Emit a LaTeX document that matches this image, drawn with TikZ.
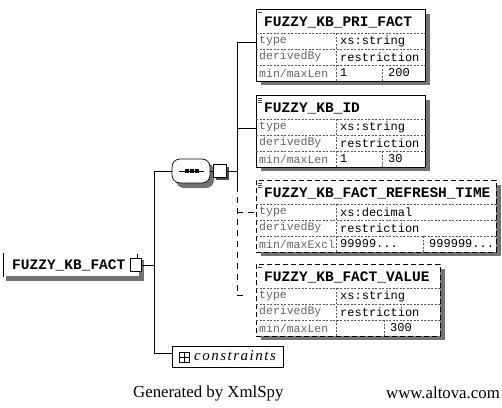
\documentclass[tikz,border=0pt]{standalone}
\usepackage{fontspec}
\setmainfont{Liberation Serif}
\newfontfamily\monof{Liberation Mono}
\newfontfamily\italf[LetterSpace=10]{Liberation Serif Italic}
\tikzset{
  shadowfill/.style={fill=black!55, draw=none},
  ebox/.style={draw=black, line width=0.8pt, fill=white, inner sep=0pt, outer sep=0pt},
  obox/.style={ebox, dash pattern=on 5pt off 3pt},
  rowline/.style={draw=black!65, line width=0.5pt, dash pattern=on 2pt off 1.5pt},
  conn/.style={draw=black, line width=0.8pt},
  oconn/.style={draw=black, line width=0.8pt, dash pattern=on 6pt off 5pt},
  ttl/.style={font=\monof\bfseries\fontsize{14.5}{15}\selectfont, anchor=west, inner sep=0pt},
  lbl/.style={font=\monof\fontsize{11.5}{12}\selectfont, text=black!60, anchor=west, inner sep=0pt},
  val/.style={font=\monof\fontsize{12}{12}\selectfont, anchor=west, inner sep=0pt},
  tickline/.style={draw=black!70, line width=0.5pt},
}
% one XML Schema element: #1 name, #2 right edge, #3 border style, #4 title,
% #5 type, #6 range facet label, #7 low value, #8 high value, #9 second divider
\newcommand\xsdelem[9]{%
  \fill[shadowfill] (261,5) rectangle (#2+5,76);
  \node[#3, anchor=north west, minimum width={(#2-256)*1pt}, minimum height=72pt] (#1) at (256,0) {};
  \draw[rowline] (256,24) -- (#2,24) (256,40) -- (#2,40) (256,56) -- (#2,56)
                 (336,24) -- (336,72) (#9,56) -- (#9,72);
  \node[ttl] (#1-title) at (264,13) {#4};
  \node[lbl] (#1-l1) at (259,32) {type};
  \node[lbl] (#1-l2) at (259,48) {derivedBy};
  \node[lbl] (#1-l3) at (259,64) {#6};
  \node[val] (#1-v1) at (340,32) {#5};
  \node[val] (#1-v2) at (340,48) {restriction};
  \node[val] (#1-v3) at (340,64) {#7};
  \node[val] (#1-v4) at (#9+6,64) {#8};
  \coordinate (#1-in) at (256,33);
}
\begin{document}
\begin{tikzpicture}[x=1pt,y=-1pt]
\useasboundingbox (0,0) rectangle (502,407);

% child elements
\begin{scope}[shift={(0,9)}]
  \xsdelem{pri}{425}{ebox}{FUZZY\_KB\_PRI\_FACT}{xs:string}{min/maxLen}{1}{200}{382}
  \draw[tickline] (258,3) -- (262,3);
\end{scope}
\begin{scope}[shift={(0,95)}]
  \xsdelem{kbid}{425}{ebox}{FUZZY\_KB\_ID}{xs:string}{min/maxLen}{1}{30}{382}
  \draw[tickline] (258,3) -- (262,3) (258,5) -- (262,5) (258,7) -- (262,7);
\end{scope}
\begin{scope}[shift={(0,180)}]
  \xsdelem{refresh}{496}{obox}{FUZZY\_KB\_FACT\_REFRESH\_TIME}{xs:decimal}{min/maxExcl}{99999...}{999999...}{423}
  \draw[tickline] (258,3) -- (262,3) (258,5) -- (262,5) (258,7) -- (262,7);
\end{scope}
\begin{scope}[shift={(0,264)}]
  \xsdelem{fval}{440}{obox}{FUZZY\_KB\_FACT\_VALUE}{xs:string}{min/maxLen}{}{300}{384}
  \draw[tickline] (258,3) -- (262,3);
\end{scope}

% sequence compositor
\fill[shadowfill, rounded corners=8pt] (176,163) rectangle (214,188);
\node[draw, line width=0.7pt, fill=white, rounded corners=8pt, minimum width=38pt,
      minimum height=24pt, inner sep=0pt] (seq) at (191,171) {};
\draw[line width=0.8pt] (179,171) -- (204,171);
\foreach \dx in {187,192,197} \fill (\dx-1.6,169.4) rectangle (\dx+1.6,172.6);
\fill[black!70] (215.5,166.5) rectangle (228.5,179.5);
\node[draw, line width=1pt, fill=white, minimum size=13pt, inner sep=0pt] (seqbox) at (220,171) {};
\draw[conn] (seq.east) -- (seqbox.west);

% bus to the children
\coordinate (busTop) at (237,42);
\coordinate (busSeq) at (237,171);
\coordinate (busMid) at (237,186);
\coordinate (busEnd) at (237,295);
\draw[conn] (seqbox.east) -- (busSeq);
\draw[conn] (busTop) -- (busMid);
\draw[conn] (busTop) -- (busTop -| pri-in);
\draw[conn] (237,128) -- (kbid-in |- 0,128);
\draw[oconn] (busMid) -- (busEnd);
\draw[oconn] (237,212) -- (refresh-in |- 0,212);
\draw[conn] (busEnd) -- (243,295);

% root element
\fill[shadowfill] (6,276) rectangle (144,281);
\fill[shadowfill] (139,260) rectangle (144,281);
\draw[line width=0.7pt] (3,253) -- (3,277);
\node[ttl] (root) at (12,265) {FUZZY\_KB\_FACT};
\node[draw, line width=1pt, fill=white, minimum width=11pt, minimum height=13pt, inner sep=0pt] (rootbox) at (136,265) {};
\draw[line width=0.6pt] ([xshift=1pt]rootbox.north) -- ++(0,-4);
\coordinate (lbusRoot) at (154,265);
\coordinate (lbusTop) at (154,171);
\coordinate (lbusBot) at (154,353);
\draw[conn] (rootbox.east) -- (lbusRoot);
\draw[conn] (seq.west) -- (lbusTop) -- (lbusBot);

% constraints
\node[draw, line width=0.8pt, fill=white, anchor=north west, minimum width=111pt,
      minimum height=21pt, inner sep=0pt] (cons) at (172,346) {};
\draw[conn] (lbusBot) -- (cons.west |- lbusBot);
\node[draw, line width=0.7pt, minimum size=10pt, inner sep=0pt] (consicon) at (184,357) {};
\draw[line width=0.6pt] (consicon.north) -- (consicon.south) (consicon.west) -- (consicon.east);
\node[anchor=west, inner sep=0pt, font=\italf\fontsize{15}{15}\selectfont] (constext) at (194,356) {constraints};

% footer
\node[anchor=west, inner sep=0pt, font=\fontsize{16.8}{18}\selectfont] (gen) at (133,393) {Generated by XmlSpy};
\node[anchor=east, inner sep=0pt, font=\fontsize{16.8}{18}\selectfont] (site) at (500,393) {www.altova.com};
\end{tikzpicture}
\end{document}
